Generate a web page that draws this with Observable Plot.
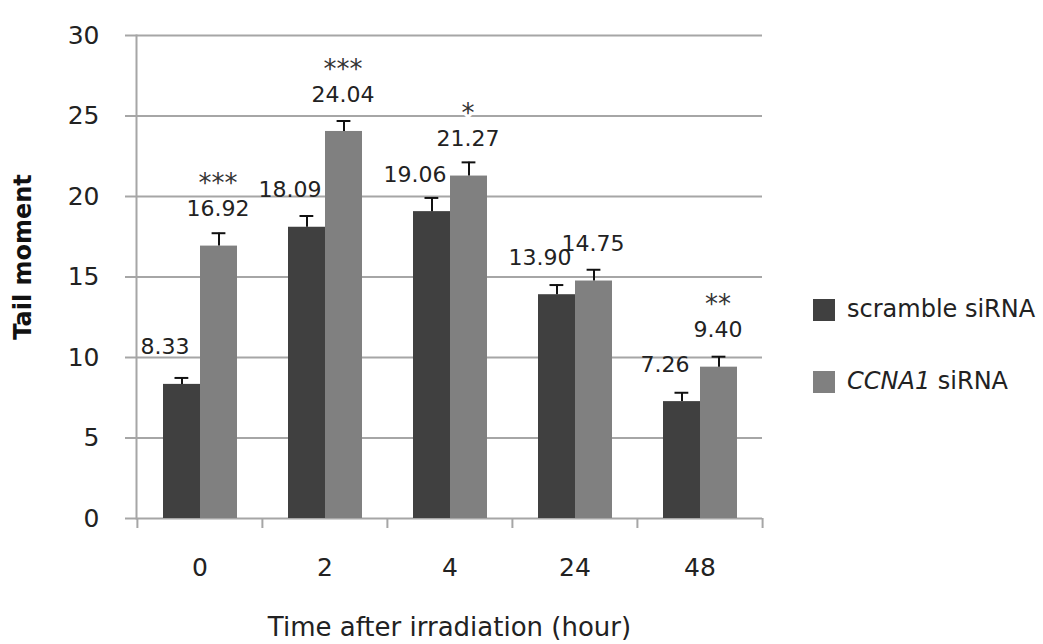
<!DOCTYPE html>
<html><head><meta charset="utf-8">
<script src="https://cdn.jsdelivr.net/npm/d3@7"></script>
<script src="https://cdn.jsdelivr.net/npm/@observablehq/plot@0.6"></script>
<style>
body{margin:0;background:#fff;}
#wrap{position:relative;width:1043px;height:644px;font-family:"DejaVu Sans",sans-serif;color:#222;}
#wrap svg{position:absolute;left:0;top:0;}
g[aria-label="x-axis label"] text{font-size:26px;}
.lg{position:absolute;left:813px;width:22px;height:22px;}
.lt{position:absolute;left:847px;font-size:24px;line-height:24px;white-space:nowrap;}
</style></head><body><div id="wrap"></div>
<script>
const times = ["0", "2", "4", "24", "48"];
const seriesNames = ["scramble siRNA", "CCNA1 siRNA"];
const scrambleValues = [8.33, 18.09, 19.06, 13.90, 7.26];
const ccna1Values = [16.92, 24.04, 21.27, 14.75, 9.40];
const scrambleErrors = [0.4, 0.7, 0.85, 0.6, 0.55];
const ccna1Errors = [0.8, 0.65, 0.85, 0.7, 0.65];
const ccna1Stars = ["***", "***", "*", "", "**"];
const yTicks = [0, 5, 10, 15, 20, 25, 30];
const yTitle = "Tail moment";
const xTitle = "Time after irradiation (hour)";
const colors = ["#404040", "#808080"];

const scramble = times.map((t, i) => ({time: t, series: seriesNames[0], value: scrambleValues[i], err: scrambleErrors[i]}));
const ccna1 = times.map((t, i) => ({time: t, series: seriesNames[1], value: ccna1Values[i], err: ccna1Errors[i], stars: ccna1Stars[i]}));

const grid = "#a6a6a6";
const half = 62.6;

const chart = Plot.plot({
  width: 1043, height: 644,
  marginLeft: 136, marginRight: 281, marginTop: 35, marginBottom: 126,
  style: {fontFamily: "DejaVu Sans, sans-serif", fontSize: "25px", color: "#222", background: "transparent"},
  x: {domain: times, padding: 0},
  y: {domain: [0, 30]},
  marks: [
    Plot.ruleY(yTicks, {stroke: grid, strokeWidth: 2}),
    Plot.frame({anchor: "left", stroke: grid, strokeWidth: 2}),
    Plot.axisY(yTicks, {tickSize: 11, tickPadding: 26, stroke: grid, strokeWidth: 2, fill: "#222", label: null}),
    Plot.text([yTitle], {frameAnchor: "left", textAnchor: "middle", rotate: -90, dx: -113, dy: -20, fontWeight: "bold", fontSize: 24, fill: "#111"}),
    Plot.axisX({tickSize: 0, tickPadding: 40, fill: "#222",
      label: xTitle, labelAnchor: "center", labelArrow: "none", labelOffset: 117}),
    Plot.axisX(times, {tickSize: 10, text: null, label: null, stroke: grid, strokeWidth: 2, dx: -half}),
    Plot.axisX([times[times.length - 1]], {tickSize: 10, text: null, label: null, stroke: grid, strokeWidth: 2, dx: half}),
    Plot.barY(scramble, {x: "time", y: "value", fill: colors[0], insetLeft: 26, insetRight: 62}),
    Plot.barY(ccna1, {x: "time", y: "value", fill: colors[1], insetLeft: 63, insetRight: 25}),
    Plot.ruleX(scramble, {x: "time", y1: "value", y2: d => d.value + d.err, dx: -18, stroke: "#111", strokeWidth: 2}),
    Plot.ruleX(ccna1, {x: "time", y1: "value", y2: d => d.value + d.err, dx: 19, stroke: "#111", strokeWidth: 2}),
    Plot.tickY(scramble, {x: "time", y: d => d.value + d.err, insetLeft: 37.5, insetRight: 73.7, stroke: "#111", strokeWidth: 2}),
    Plot.tickY(ccna1, {x: "time", y: d => d.value + d.err, insetLeft: 74.6, insetRight: 36.6, stroke: "#111", strokeWidth: 2}),
    Plot.text(scramble, {x: "time", y: "value", text: d => d.value.toFixed(2), dy: -37, dx: -35, fontSize: 22, fill: "#222"}),
    Plot.text(ccna1, {x: "time", y: "value", text: d => d.value.toFixed(2), dy: -37, dx: 18, fontSize: 22, fill: "#222"}),
    Plot.text(ccna1, {x: "time", y: "value", text: "stars", dy: -62, dx: 18, fontSize: 26, fill: "#333", stroke: "white", strokeWidth: 6, paintOrder: "stroke"})
  ]
});
const wrap = document.getElementById("wrap");
wrap.appendChild(chart);

// legend
const legendTop = [299, 371];
seriesNames.forEach((name, i) => {
  const sw = document.createElement("div");
  sw.className = "lg";
  sw.style.top = legendTop[i] + "px";
  sw.style.background = colors[i];
  wrap.appendChild(sw);
  const lt = document.createElement("div");
  lt.className = "lt";
  lt.style.top = (legendTop[i] - 2) + "px";
  if (name.startsWith("CCNA1")) {
    lt.innerHTML = "<i>CCNA1</i>" + name.slice(5);
  } else {
    lt.textContent = name;
  }
  wrap.appendChild(lt);
});
</script>
</body></html>
